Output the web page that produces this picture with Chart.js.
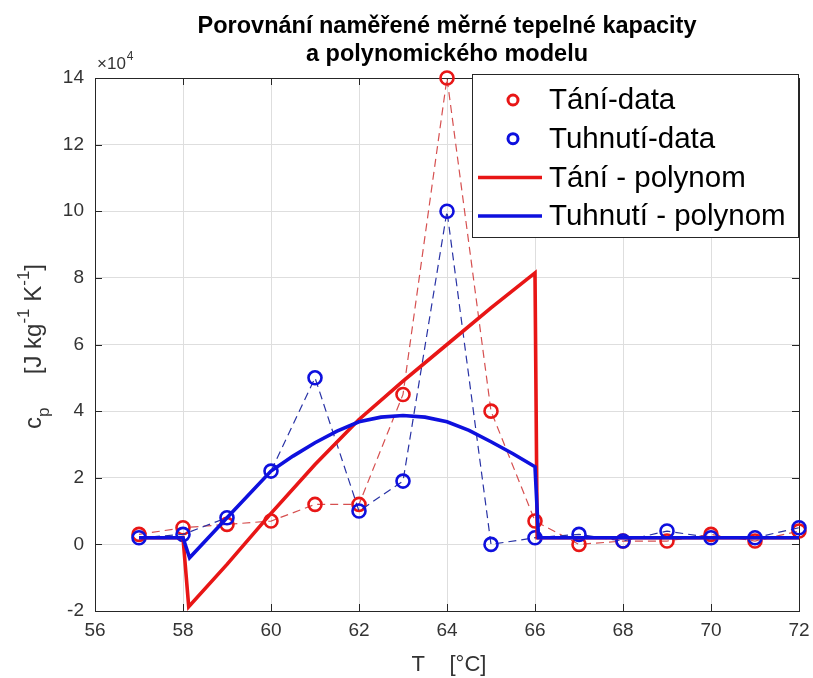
<!DOCTYPE html>
<html>
<head>
<meta charset="utf-8">
<script src="https://cdn.jsdelivr.net/npm/chart.js@4.4.1/dist/chart.umd.min.js"></script>
<style>
  html, body { margin: 0; padding: 0; background: #fff; }
  #wrap { width: 813px; height: 678px; }
</style>
</head>
<body>
<div id="wrap"><canvas id="myChart" width="813" height="678"></canvas></div>
<script>
// teploty mereni [°C]
var teploty = [57, 58, 59, 60, 61, 62, 63, 64, 65, 66, 67, 68, 69, 70, 71, 72];
// namerene cp [x10^4 J kg-1 K-1]
var taniData    = [0.3, 0.5, 0.6, 0.7, 1.2, 1.2, 4.5, 14.0, 4.0, 0.7, 0.0, 0.1, 0.1, 0.3, 0.1, 0.4];
var tuhnutiData = [0.2, 0.3, 0.8, 2.2, 5.0, 1.0, 1.9, 10.0, 0.0, 0.2, 0.3, 0.1, 0.4, 0.2, 0.2, 0.5];

// polynomicky model (odecteno z krivky)
var taniPolyT  = [57, 58, 58.13, 59, 60, 61, 62, 63, 64, 65, 66, 66.05, 72];
var taniPolyCp = [0.2, 0.2, -1.87, -0.6, 0.93, 2.4, 3.75, 4.9, 6.0, 7.1, 8.15, 0.2, 0.2];
var tuhPolyT  = [57, 58, 58.15, 59, 60, 60.5, 61, 61.5, 62, 62.5, 63, 63.5, 64, 64.5, 65, 65.5, 66, 66.08, 72];
var tuhPolyCp = [0.2, 0.2, -0.4, 0.8, 2.2, 2.65, 3.05, 3.4, 3.68, 3.82, 3.87, 3.82, 3.68, 3.42, 3.08, 2.72, 2.33, 0.2, 0.2];

var xTicks = [56, 58, 60, 62, 64, 66, 68, 70, 72];
var yTicks = [-2, 0, 2, 4, 6, 8, 10, 12, 14];

var nazvy = ['Tání-data', 'Tuhnutí-data', 'Tání - polynom', 'Tuhnutí - polynom'];
var cervena = 'rgb(232,22,22)';
var modra = 'rgb(14,16,222)';
var pismo = '"Liberation Sans", Arial, sans-serif';
var sedaText = '#333';

function body(xs, ys) {
	var out = [];
	for (var i = 0; i < xs.length; i++) out.push({x: xs[i], y: ys[i]});
	return out;
}

// osy, mrizka a popisky ve stylu matlabu
var vzhled = {
	id: 'vzhled',
	beforeDatasetsDraw: function(chart) {
		var ctx = chart.ctx, a = chart.chartArea;
		var sx = chart.scales.x, sy = chart.scales.y;
		ctx.save();
		ctx.strokeStyle = '#262626';
		ctx.lineWidth = 1;
		ctx.beginPath();
		xTicks.forEach(function(v) {
			var px = Math.round(sx.getPixelForValue(v)) + 0.5;
			ctx.moveTo(px, a.bottom); ctx.lineTo(px, a.bottom - 7);
			ctx.moveTo(px, a.top); ctx.lineTo(px, a.top + 7);
		});
		yTicks.forEach(function(v) {
			var py = Math.round(sy.getPixelForValue(v)) + 0.5;
			ctx.moveTo(a.left, py); ctx.lineTo(a.left + 7, py);
			ctx.moveTo(a.right, py); ctx.lineTo(a.right - 7, py);
		});
		ctx.stroke();
		ctx.strokeRect(Math.round(a.left) + 0.5, Math.round(a.top) + 0.5,
			Math.round(a.right - a.left), Math.round(a.bottom - a.top));
		ctx.restore();
	},
	afterDraw: function(chart) {
		var ctx = chart.ctx, a = chart.chartArea;
		var cx = (a.left + a.right) / 2;
		ctx.save();

		// titulek
		ctx.fillStyle = '#000';
		ctx.textAlign = 'center';
		ctx.textBaseline = 'alphabetic';
		ctx.font = 'bold 23.5px ' + pismo;
		ctx.fillText('Porovnání naměřené měrné tepelné kapacity', cx, 33);
		ctx.fillText('a polynomického modelu', cx, 61);

		// nasobitel osy y
		ctx.fillStyle = sedaText;
		ctx.textAlign = 'left';
		ctx.font = '17px ' + pismo;
		ctx.fillText('×10', a.left + 2, 69);
		var w10 = ctx.measureText('×10').width;
		ctx.font = '12px ' + pismo;
		ctx.fillText('4', a.left + 2 + w10 + 1, 60);

		// popisek osy x
		ctx.font = '22px ' + pismo;
		ctx.textAlign = 'center';
		ctx.fillText('T    [°C]', cx + 2, 671);

		// popisek osy y s indexy
		ctx.translate(41, (a.top + a.bottom) / 2 + 2);
		ctx.rotate(-Math.PI / 2);
		var casti = [
			['c', '24px ', 0], ['p', '17px ', 8], ['     [J kg', '24px ', 0],
			['-1', '17px ', -12], [' K', '24px ', 0], ['-1', '17px ', -12], [']', '24px ', 0]
		];
		var sirka = 0;
		casti.forEach(function(c) { ctx.font = c[1] + pismo; sirka += ctx.measureText(c[0]).width; });
		var x = -sirka / 2;
		ctx.textAlign = 'left';
		casti.forEach(function(c) {
			ctx.font = c[1] + pismo;
			ctx.fillText(c[0], x, c[2]);
			x += ctx.measureText(c[0]).width;
		});
		ctx.restore();

		// legenda
		ctx.save();
		var lx = 472.5, ly = 74.5, lw = 326, lh = 163;
		ctx.fillStyle = '#fff';
		ctx.fillRect(lx, ly, lw, lh);
		ctx.strokeStyle = '#262626';
		ctx.lineWidth = 1;
		ctx.strokeRect(lx, ly, lw, lh);
		ctx.font = '29.5px ' + pismo;
		ctx.fillStyle = '#000';
		ctx.textBaseline = 'middle';
		ctx.textAlign = 'left';
		var barvy = [cervena, modra, cervena, modra];
		for (var i = 0; i < 4; i++) {
			var yy = 100 + i * 38.7;
			ctx.strokeStyle = barvy[i];
			if (i < 2) {
				ctx.lineWidth = 3;
				ctx.beginPath();
				ctx.arc(513, yy, 5, 0, Math.PI * 2);
				ctx.stroke();
			} else {
				ctx.lineWidth = 3.5;
				ctx.beginPath();
				ctx.moveTo(478, yy); ctx.lineTo(542, yy);
				ctx.stroke();
			}
			ctx.fillText(nazvy[i], 549, yy + 1);
		}
		ctx.restore();
	}
};

var datasety = [
	{
		label: nazvy[0], data: body(teploty, taniData), order: 3,
		borderColor: 'rgb(214,80,80)', borderWidth: 1.2, borderDash: [8, 5],
		pointRadius: 6.5, pointBorderWidth: 2.6, pointBorderColor: cervena,
		pointBackgroundColor: 'rgba(0,0,0,0)', pointStyle: 'circle'
	},
	{
		label: nazvy[1], data: body(teploty, tuhnutiData), order: 2,
		borderColor: 'rgb(40,50,165)', borderWidth: 1.2, borderDash: [8, 5],
		pointRadius: 6.5, pointBorderWidth: 2.6, pointBorderColor: modra,
		pointBackgroundColor: 'rgba(0,0,0,0)', pointStyle: 'circle'
	},
	{
		label: nazvy[2], data: body(taniPolyT, taniPolyCp), order: 1,
		borderColor: cervena, borderWidth: 3.6, pointRadius: 0
	},
	{
		label: nazvy[3], data: body(tuhPolyT, tuhPolyCp), order: 0,
		borderColor: modra, borderWidth: 3.6, pointRadius: 0
	}
];

var osaFont = { family: pismo, size: 19 };

var config = {
	type: 'line',
	data: { datasets: datasety },
	options: {
		responsive: false,
		animation: false,
		clip: false,
		layout: { padding: { top: 78, right: 14, left: 0, bottom: 0 } },
		plugins: { legend: { display: false }, title: { display: false }, tooltip: { enabled: false } },
		elements: { line: { tension: 0 } },
		scales: {
			x: {
				type: 'linear', min: 56, max: 72,
				afterBuildTicks: function(s) { s.ticks = xTicks.map(function(v) { return {value: v}; }); },
				afterFit: function(s) { s.height = 67; s.paddingLeft = 0; s.paddingRight = 0; },
				ticks: { font: osaFont, color: sedaText, padding: 8, maxRotation: 0 },
				grid: { color: '#dedede', drawTicks: false },
				border: { display: false }
			},
			y: {
				type: 'linear', min: -2, max: 14,
				afterBuildTicks: function(s) { s.ticks = yTicks.map(function(v) { return {value: v}; }); },
				afterFit: function(s) { s.width = 95; s.paddingTop = 0; s.paddingBottom = 0; },
				ticks: { font: osaFont, color: sedaText, padding: 11 },
				grid: { color: '#dedede', drawTicks: false },
				border: { display: false }
			}
		}
	},
	plugins: [vzhled]
};

var myChart = new Chart(document.getElementById('myChart'), config);
</script>
</body>
</html>
